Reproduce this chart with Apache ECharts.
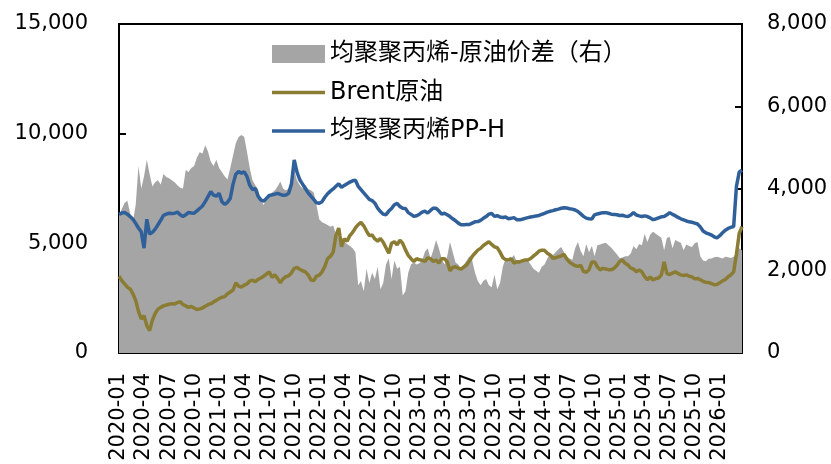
<!DOCTYPE html>
<html>
<head>
<meta charset="utf-8">
<script src="https://cdn.jsdelivr.net/npm/echarts@6/dist/echarts.min.js"></script>
<style>
  html, body { margin: 0; padding: 0; background: #fff; }
  #chart { width: 831px; height: 464px; }
</style>
</head>
<body>
<div id="chart"></div>
<script>
// Sampling dates: three observations per month (1st, 11th, 21st), Jan 2020 – Mar 2026
const SAMPLE_DAYS = [1, 11, 21];
const LAST_MONTH = '2026-03';
const dates = [];
for (let y = 2020; y <= 2026; y++) {
  for (let m = 1; m <= 12; m++) {
    const ym = y + '-' + String(m).padStart(2, '0');
    if (ym > LAST_MONTH) break;
    SAMPLE_DAYS.forEach(d => dates.push(ym + '-' + String(d).padStart(2, '0')));
  }
}

// Series names (legend order)
const spreadName = '均聚聚丙烯-原油价差（右）';
const brentName = 'Brent原油';
const ppName = '均聚聚丙烯PP-H';

// Homopolymer PP-H price (left axis)
const ppH = [
  6320, 6380, 6410, 6330, 6220, 6100, 5910, 5700, 5530, 4780, 6100, 5420,
  5500, 5650, 5850, 6050, 6280, 6330, 6370, 6360, 6370, 6430, 6300, 6220,
  6300, 6410, 6380, 6370, 6480, 6590, 6700, 6900, 7130, 7360, 7200, 7150,
  7280, 6900, 6780, 6870, 7050, 7700, 8150, 8270, 8200, 8260, 8050, 7650,
  7450, 7500, 7150, 6980, 6920, 7050, 7180, 7210, 7240, 7280, 7230, 7190,
  7200, 7280, 7700, 8800, 8250, 7900, 7700, 7500, 7300, 7150, 7000, 6850,
  6830, 6900, 7100, 7260, 7380, 7480, 7600, 7720, 7550, 7640, 7720, 7790,
  7850, 7880, 7600, 7450, 7300, 7150, 7000, 6950, 6830, 6600, 6450, 6330,
  6300, 6470, 6590, 6760, 6820, 6680, 6600, 6590, 6400, 6320, 6230, 6260,
  6330, 6420, 6470, 6380, 6500, 6600, 6600, 6480, 6330, 6370, 6300, 6220,
  6120, 6030, 5920, 5850, 5850, 5860, 5860, 5920, 5980, 5990, 6050, 6140,
  6220, 6330, 6360, 6230, 6260, 6200, 6180, 6200, 6120, 6140, 6170, 6080,
  6070, 6100, 6140, 6170, 6200, 6220, 6250, 6270, 6320, 6370, 6420, 6460,
  6490, 6530, 6560, 6600, 6620, 6610, 6580, 6560, 6520, 6450, 6340, 6230,
  6150, 6120, 6110, 6300, 6340, 6370, 6400, 6400, 6370, 6330, 6320, 6300,
  6270, 6280, 6240, 6220, 6290, 6400, 6290, 6250, 6220, 6250, 6220, 6160,
  6080, 6110, 6160, 6210, 6220, 6300, 6400, 6320, 6260, 6180, 6120, 6070,
  6020, 5980, 5960, 5920, 5880, 5750, 5560, 5480, 5430, 5380, 5300, 5250,
  5350, 5480, 5600, 5680, 5730, 5760, 7600, 8250, 8330
];

// Brent crude converted price (left axis)
const brent = [
  3500, 3300, 3150, 3000, 2920, 2700, 2400, 1900, 1550, 1700, 1250, 1020,
  1500, 1800, 2000, 2080, 2150, 2190, 2220, 2250, 2230, 2300, 2340, 2210,
  2150, 2080, 2120, 2050, 1980, 2010, 2050, 2130, 2200, 2250, 2330, 2400,
  2480, 2540, 2570, 2700, 2780, 2870, 3200, 3050, 3000, 3100, 3150, 3280,
  3320, 3250, 3360, 3420, 3500, 3600, 3700, 3450, 3560, 3400, 3200, 3380,
  3480, 3520, 3650, 3860, 3900, 3820, 3750, 3700, 3560, 3330, 3300, 3500,
  3550, 3700, 3950, 4300, 4400, 4600, 5350, 5700, 4850, 5200, 5100, 5350,
  5500, 5700, 5850, 5950, 5800, 5560, 5350, 5380, 5200, 5100, 5220, 5050,
  4800, 4550, 5000, 5070, 4930, 5150, 5000, 4700, 4450, 4300, 4170, 4300,
  4250, 4230, 4170, 4340, 4300, 4170, 4240, 4100, 4300, 4300, 4160, 3750,
  3900, 3930, 3860, 3830, 3920, 4010, 4200, 4400, 4550, 4690, 4770, 4900,
  4990, 5070, 4950, 4840, 4800, 4600, 4350, 4260, 4240, 4300, 4100, 4160,
  4150, 4200, 4240, 4240, 4310, 4420, 4520, 4640, 4690, 4680, 4550, 4470,
  4320, 4340, 4390, 4420, 4500, 4280, 4140, 4060, 3980, 3950, 4000, 3720,
  3680, 3800, 4150, 4150, 3930, 3790, 3860, 3830, 3800, 3800, 3860, 3990,
  4170, 4240, 4090, 4010, 3870, 3830, 3710, 3780, 3700, 3480, 3340, 3470,
  3330, 3400, 3420, 3560, 4150, 3620, 3580, 3640, 3700, 3630, 3560, 3530,
  3560, 3500, 3470, 3380, 3400, 3340, 3270, 3220, 3210, 3170, 3110, 3120,
  3200, 3290, 3350, 3480, 3560, 3700, 4500, 5450, 5760
];

// PP-H minus crude spread (right axis)
const spread = [
  3350, 3500, 3650, 3700, 3400, 3200, 3600, 4550, 4000, 4300, 4700, 4350,
  4050, 4150, 4200, 4100, 4350, 4280, 4250, 4200, 4150, 4080, 4020, 4000,
  4450, 4400, 4500, 4550, 4750, 4880, 4850, 5050, 4900, 4650, 4550, 4700,
  4500, 4400, 4300, 4220, 4500, 4800, 5100, 5250, 5300, 5260, 4900, 4500,
  4200, 4080, 3980, 3720, 3600, 3750, 3850, 3900, 3950, 4050, 4170, 4000,
  3950, 4000, 4250, 4450, 4200, 4080, 4000, 4090, 3990, 3960, 3900, 3600,
  3250, 3180, 3150, 3110, 3070, 3100, 2900, 2800, 2750, 2700, 2650, 2600,
  2550, 2450, 1650, 1750, 1500, 2050, 1700, 1950, 1800, 2100, 1550, 1700,
  2150, 2300, 1800, 2250, 2050, 2100, 1400, 1500, 1950, 2150, 2200, 2150,
  2180, 2250, 2460, 2550, 2300, 2500, 2750, 2550, 2300, 2150, 2350, 2700,
  2450, 2200, 2150, 2060, 2150, 2250, 2350, 2250, 1950, 1750, 1650, 1750,
  1800, 1650, 1600, 1900, 1550, 1700, 2100, 2300, 2200, 2300, 2380, 2230,
  2250, 2220, 2230, 2250, 2150, 2050, 2000, 1950, 2100, 2150, 2300, 2420,
  2380, 2450, 2520, 2580, 2450, 2350, 2300, 2270, 2550, 2700, 2480, 2350,
  2650, 2450, 2600, 2350, 2620, 2640, 2660, 2680, 2620, 2560, 2480, 2400,
  2310, 2320, 2350, 2350, 2420, 2600, 2520, 2650, 2620, 2900, 2700, 2880,
  2950, 2900, 2850, 2800, 2500, 2800, 2820, 2550, 2750, 2710, 2680, 2500,
  2640, 2600, 2580, 2670, 2700, 2350, 2250, 2230, 2290, 2300, 2330, 2340,
  2320, 2300, 2340, 2330, 2310, 2340, 2450, 2550, 2500
];

const FONT = '"DejaVu Sans", "Noto Sans CJK SC", sans-serif';
const fmt = v => v.toLocaleString('en-US');
const quarterStart = idx => idx % 9 === 0;

// Legend glyph for the line series: a thin bar centred in the 53×18 icon box
const LINE_ICON = 'path://M0,0 M0,7.25 L53,7.25 L53,10.75 L0,10.75 Z M53,18';

const chart = echarts.init(document.getElementById('chart'), null, { renderer: 'canvas' });
chart.setOption({
  animation: false,
  backgroundColor: '#ffffff',
  textStyle: { fontFamily: FONT },
  grid: {
    left: 119, right: 89, top: 24, bottom: 111,
    show: true, borderColor: '#000', borderWidth: 2, backgroundColor: 'transparent'
  },
  legend: {
    orient: 'vertical',
    left: 272, top: 42, padding: 0,
    itemWidth: 53, itemHeight: 18, itemGap: 14.5,
    textStyle: { fontSize: 24, color: '#000', fontFamily: FONT },
    data: [
      { name: spreadName, icon: 'rect' },
      { name: brentName, icon: LINE_ICON },
      { name: ppName, icon: LINE_ICON }
    ]
  },
  xAxis: {
    type: 'category',
    data: dates,
    boundaryGap: false,
    axisLine: { show: true, lineStyle: { color: '#000', width: 2 } },
    axisTick: { show: true, inside: true, length: 7, interval: quarterStart, lineStyle: { color: '#000', width: 2 } },
    axisLabel: {
      interval: quarterStart, rotate: 90, margin: 20,
      fontSize: 21, color: '#000', fontFamily: FONT,
      formatter: v => v.slice(0, 7)
    },
    splitLine: { show: false }
  },
  yAxis: [
    {
      type: 'value', min: 0, max: 15000, interval: 5000,
      axisLine: { show: true, lineStyle: { color: '#000', width: 2 } },
      axisTick: { show: true, inside: true, length: 7, lineStyle: { color: '#000', width: 2 } },
      axisLabel: { margin: 31, fontSize: 21, color: '#000', fontFamily: FONT, formatter: fmt },
      splitLine: { show: false }
    },
    {
      type: 'value', min: 0, max: 8000, interval: 2000, position: 'right',
      axisLine: { show: true, lineStyle: { color: '#000', width: 2 } },
      axisTick: { show: true, inside: true, length: 7, lineStyle: { color: '#000', width: 2 } },
      axisLabel: { margin: 25, fontSize: 21, color: '#000', fontFamily: FONT, formatter: fmt },
      splitLine: { show: false }
    }
  ],
  series: [
    {
      name: spreadName, type: 'line', yAxisIndex: 1, data: spread,
      symbol: 'none', smooth: false,
      itemStyle: { color: '#A5A5A5' },
      lineStyle: { width: 0, color: '#A5A5A5' },
      areaStyle: { color: '#A5A5A5', opacity: 1 },
      z: 1
    },
    {
      name: brentName, type: 'line', yAxisIndex: 0, data: brent,
      symbol: 'none',
      itemStyle: { color: '#8B7C34' },
      lineStyle: { width: 3.5, color: '#8B7C34' },
      z: 2
    },
    {
      name: ppName, type: 'line', yAxisIndex: 0, data: ppH,
      symbol: 'none',
      itemStyle: { color: '#30609A' },
      lineStyle: { width: 3.5, color: '#30609A' },
      z: 3
    }
  ]
});
</script>
</body>
</html>
